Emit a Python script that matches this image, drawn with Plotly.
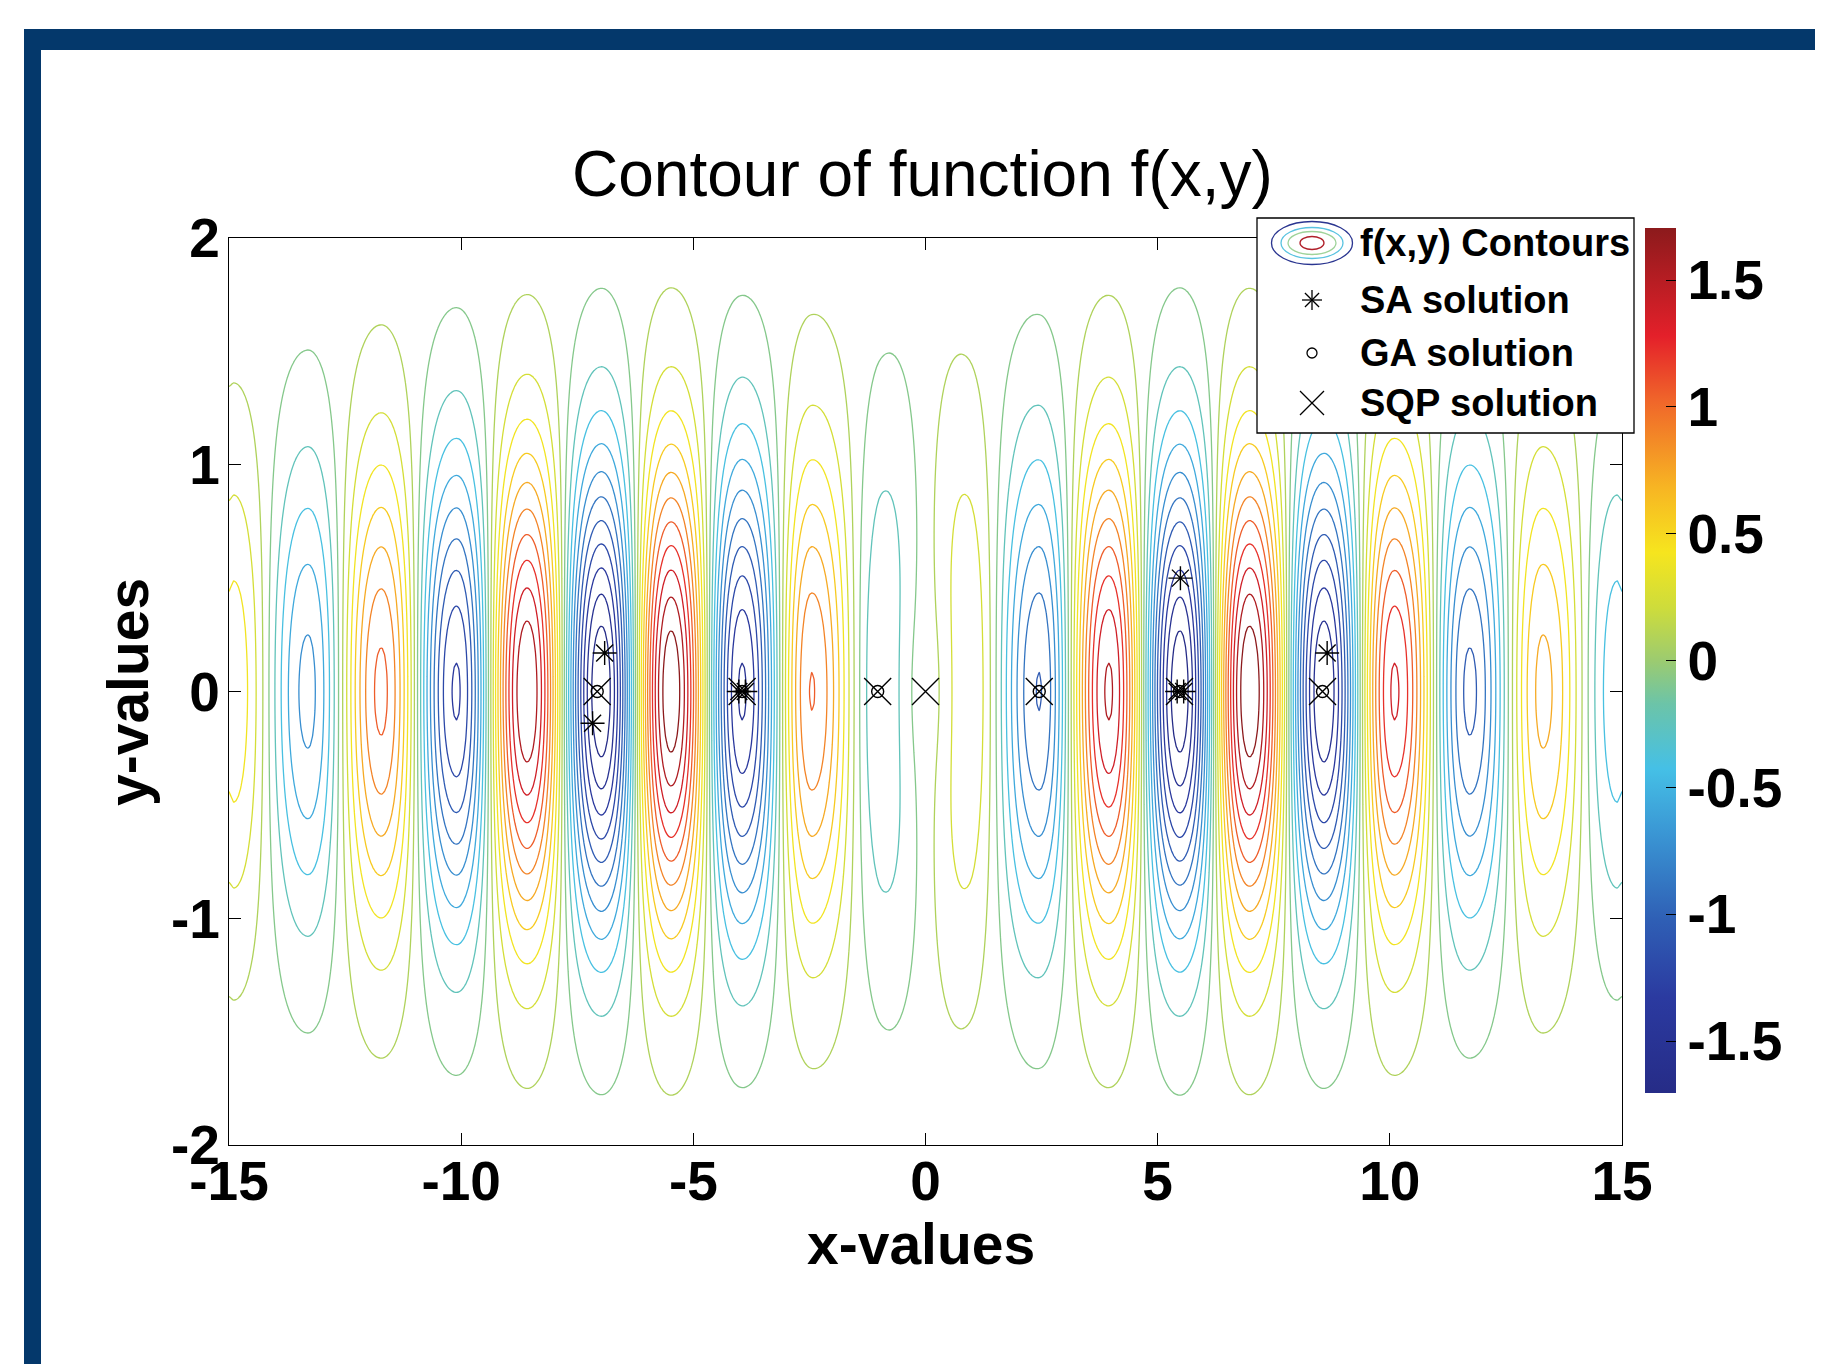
import numpy as np
import plotly.graph_objects as go

# ---------------- data ----------------
title_text = "Contour of function f(x,y)"
x_label = "x-values"
y_label = "y-values"

# x-positions of the ridges/troughs along y=0 and the value of f there
x_extrema = [-15.0, -14.9, -13.3, -11.72, -10.1, -8.58, -6.98, -5.48, -3.95, -2.45, -0.97,
             0.0, 0.95, 2.45, 3.95, 5.48, 6.98, 8.58, 10.1, 11.72, 13.3, 14.9, 15.0]
f_extrema = [0.45, 0.47, -0.71, 1.00, -1.28, 1.55, -1.69, 1.67, -1.43, 0.97, -0.35,
             0.0, 0.34, -0.97, 1.43, -1.67, 1.69, -1.55, 1.28, -1.00, 0.71, -0.47, -0.45]
y_half_width = 0.833         # |y| where f (at large |x|) has dropped to half of its value at y=0

z_limits = [-1.705, 1.705]   # colour bar limits
n_levels = 22                # number of contour levels between the limits

x_ticks = [-15, -10, -5, 0, 5, 10, 15]
x_ticktext = ["-15", "-10", "-5", "0", "5", "10", "15"]
y_ticks = [-2, -1, 0, 1, 2]
y_ticktext = ["-2", "-1", "0", "1", "2"]
cbar_ticks = [-1.5, -1, -0.5, 0, 0.5, 1, 1.5]
cbar_ticktext = ["-1.5", "-1", "-0.5", "0", "0.5", "1", "1.5"]

sa_x = [-6.91, -7.17, -4.02, -3.88, 5.49, 5.42, 5.56, 8.65]
sa_y = [0.17, -0.14, 0.0, 0.0, 0.50, 0.0, 0.0, 0.17]
ga_x = [-7.07, -3.95, -1.03, 2.45, 5.47, 8.55]
ga_y = [0.0, 0.0, 0.0, 0.0, 0.0, 0.0]
sqp_x = [-7.07, -3.95, -1.03, 0.0, 2.45, 5.47, 8.55]
sqp_y = [0.0, 0.0, 0.0, 0.0, 0.0, 0.0, 0.0]

legend_names = ["f(x,y) Contours", "SA solution", "GA solution", "SQP solution"]

# ---------------- build the field ----------------
xg = np.linspace(-15, 15, 601)
yg = np.linspace(-2, 2, 241)
xe = np.array(x_extrema)
fe = np.array(f_extrema)
idx = np.clip(np.searchsorted(xe, xg, side="right") - 1, 0, len(xe) - 2)
t = (xg - xe[idx]) / (xe[idx + 1] - xe[idx])
prof = fe[idx] + (fe[idx + 1] - fe[idx]) * (1 - np.cos(np.pi * t)) / 2
gy = 0.5 ** ((yg / y_half_width) ** 2)
XX, YY = np.meshgrid(xg, yg)
ax = np.abs(XX)
# rings near x=0 reach further in y: scale by the distance from the origin
radial = np.where(ax > 0, np.hypot(XX, YY) / np.where(ax > 0, ax, 1), 0.0)
Z = gy[:, None] * prof[None, :] * radial

lev = np.linspace(z_limits[0], z_limits[1], n_levels + 2)[1:-1]
level_step = lev[1] - lev[0]

jet_print = [
    [0.0, "#262c87"], [0.11, "#2b3aa0"], [0.2, "#2f5fb5"], [0.3, "#3a96d4"],
    [0.375, "#45c0e6"], [0.45, "#6cc4a8"], [0.5, "#9ccb70"], [0.56, "#cddc3c"],
    [0.625, "#f6e51e"], [0.7, "#f7b523"], [0.8, "#f0662a"], [0.875, "#e4202a"],
    [1.0, "#8c1a1c"]]

# ---------------- layout geometry (screen pixels) ----------------
OFF = 8                       # page margin of the html body
W, H = 1823 - OFF, 1364 - OFF
L, R, T, B = 229 - OFF, 1622 - OFF, 238 - OFF, 1145 - OFF
PW, PH = R - L, B - T
FONT = "Liberation Sans, Arial, Helvetica, sans-serif"
NAVY = "#04386b"


def px(xs):
    return (xs - OFF - L) / PW


def py(ys):
    return (B - (ys - OFF)) / PH


fig = go.Figure()

fig.add_trace(go.Contour(
    x=xg, y=yg, z=Z,
    contours=dict(coloring="lines", start=lev[0], end=lev[-1], size=level_step),
    line=dict(width=1.3),
    colorscale=jet_print, zmin=z_limits[0], zmax=z_limits[1], zauto=False,
    showscale=False, hoverinfo="skip", showlegend=False, name=legend_names[0]))

fig.add_trace(go.Scatter(x=sa_x, y=sa_y, mode="markers", name=legend_names[1], showlegend=False,
                         marker=dict(symbol="asterisk-open", size=20, line=dict(width=1.4, color="black"), color="black")))
fig.add_trace(go.Scatter(x=ga_x, y=ga_y, mode="markers", name=legend_names[2], showlegend=False,
                         marker=dict(symbol="circle-open", size=12, line=dict(width=1.4, color="black"), color="black")))
fig.add_trace(go.Scatter(x=sqp_x, y=sqp_y, mode="markers", name=legend_names[3], showlegend=False,
                         marker=dict(symbol="x-thin-open", size=27, line=dict(width=1.4, color="black"), color="black")))

# colour bar (continuous, like the original)
cb_top, cb_bot, cb_left, cb_w = 228, 1093, 1645, 31
fig.add_trace(go.Scatter(
    x=[sqp_x[3]], y=[sqp_y[3]], mode="markers", showlegend=False, hoverinfo="skip",
    marker=dict(size=1, opacity=0, color=[0], colorscale=jet_print, cmin=z_limits[0], cmax=z_limits[1],
                showscale=True,
                colorbar=dict(x=px(cb_left), xanchor="left", y=py((cb_top + cb_bot) / 2), yanchor="middle",
                              len=(cb_bot - cb_top) / PH, lenmode="fraction", thickness=cb_w,
                              thicknessmode="pixels", xpad=0, ypad=0, outlinewidth=0,
                              tickvals=cbar_ticks, ticktext=cbar_ticktext, ticks="inside", ticklen=10,
                              tickcolor="black", tickwidth=1,
                              tickfont=dict(family=FONT, size=55, color="black", weight="bold")))))

axis_common = dict(showgrid=False, zeroline=False, showline=True, linecolor="black", linewidth=1.3,
                   mirror="ticks", ticks="inside", ticklen=12, tickwidth=1.2, tickcolor="black",
                   tickfont=dict(family=FONT, size=55, color="black", weight="bold"))
fig.update_xaxes(range=[-15, 15], tickvals=x_ticks, ticktext=x_ticktext, ticklabelstandoff=-12, **axis_common)
fig.update_yaxes(range=[-2, 2], tickvals=y_ticks, ticktext=y_ticktext, ticklabelstandoff=-3, **axis_common)

shapes = []
# left-side colour-bar ticks
ppu = (cb_bot - cb_top) / (z_limits[1] - z_limits[0])
for v in cbar_ticks:
    yy = (cb_top + cb_bot) / 2 - v * ppu
    shapes.append(dict(type="line", xref="paper", yref="paper", x0=px(cb_left), x1=px(cb_left + 10),
                       y0=py(yy), y1=py(yy), line=dict(color="black", width=1)))

# navy page frame
for (x0, y0, x1, y1) in [(24, 29, 41, 1400), (24, 29, 1840, 50), (1819, 29, 1840, 1400)]:
    shapes.append(dict(type="rect", xref="paper", yref="paper", x0=px(x0), x1=px(x1), y0=py(y0), y1=py(y1),
                       fillcolor=NAVY, line=dict(width=0), layer="above"))

# legend box
lg_l, lg_t, lg_r, lg_b = 1257, 218, 1634, 433
shapes.append(dict(type="rect", xref="paper", yref="paper", x0=px(lg_l), x1=px(lg_r), y0=py(lg_t), y1=py(lg_b),
                   fillcolor="white", line=dict(color="black", width=1.3), layer="above"))
gx = 1312
row_y = [243, 300, 353, 403]
# contour icon
for (ew, eh, col) in [(81, 43, "#2a3590"), (62, 31, "#59c3e0"), (48, 23, "#9fd39a"), (24, 13, "#b0202a")]:
    shapes.append(dict(type="circle", xref="paper", yref="paper", x0=px(gx - ew / 2), x1=px(gx + ew / 2),
                       y0=py(row_y[0] - eh / 2), y1=py(row_y[0] + eh / 2), line=dict(color=col, width=1.3),
                       layer="above"))
# asterisk icon
r = 10
for ang in [0, 45, 90, 135]:
    dx, dy = r * np.cos(np.radians(ang)), r * np.sin(np.radians(ang))
    shapes.append(dict(type="line", xref="paper", yref="paper", x0=px(gx - dx), x1=px(gx + dx),
                       y0=py(row_y[1] - dy), y1=py(row_y[1] + dy), line=dict(color="black", width=1.3),
                       layer="above"))
# circle icon
shapes.append(dict(type="circle", xref="paper", yref="paper", x0=px(gx - 5), x1=px(gx + 5),
                   y0=py(row_y[2] - 5), y1=py(row_y[2] + 5), line=dict(color="black", width=1.3), layer="above"))
# x icon
r = 12
for s in [1, -1]:
    shapes.append(dict(type="line", xref="paper", yref="paper", x0=px(gx - r), x1=px(gx + r),
                       y0=py(row_y[3] - s * r), y1=py(row_y[3] + s * r), line=dict(color="black", width=1.3),
                       layer="above"))

annotations = []
for name, yy in zip(legend_names, row_y):
    annotations.append(dict(text=name, xref="paper", yref="paper", x=px(1358), y=py(yy), xanchor="left",
                            yanchor="middle", showarrow=False,
                            font=dict(family=FONT, size=38, color="black", weight="bold")))
annotations.append(dict(text=title_text, xref="paper", yref="paper", x=px(922), y=py(174), xanchor="center",
                        yanchor="middle", showarrow=False, font=dict(family=FONT, size=64, color="black")))
annotations.append(dict(text=x_label, xref="paper", yref="paper", x=px(921), y=py(1244), xanchor="center",
                        yanchor="middle", showarrow=False,
                        font=dict(family=FONT, size=57, color="black", weight="bold")))
annotations.append(dict(text=y_label, xref="paper", yref="paper", x=px(128), y=py(692), xanchor="center",
                        yanchor="middle", showarrow=False, textangle=-90,
                        font=dict(family=FONT, size=57, color="black", weight="bold")))

fig.update_layout(width=W, height=H, autosize=False,
                  margin=dict(l=L, r=W - R, t=T, b=H - B, pad=0),
                  paper_bgcolor="white", plot_bgcolor="white",
                  shapes=shapes, annotations=annotations, showlegend=False)

fig.write_html("out.html")
